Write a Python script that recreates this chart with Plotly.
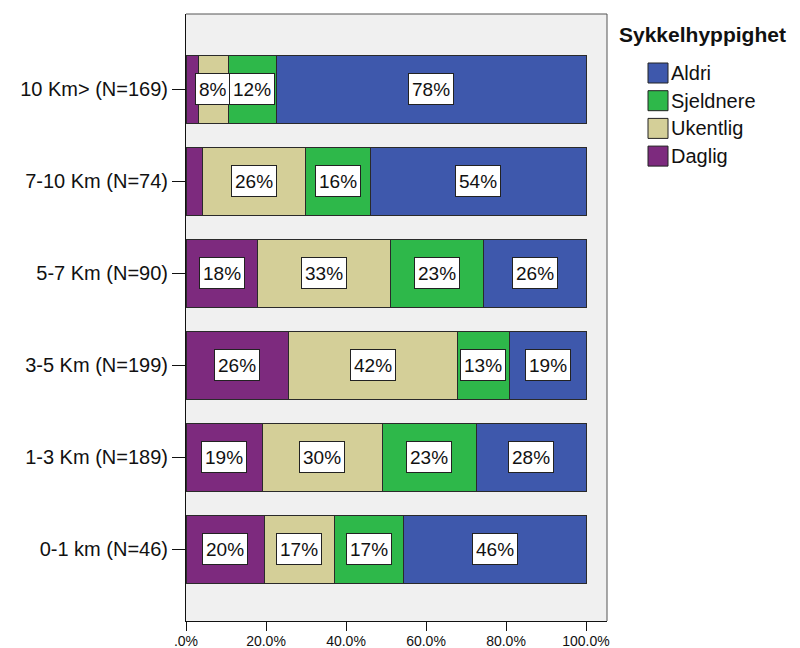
import plotly.graph_objects as go

# Distance groups, listed top to bottom
categories = ["10 Km> (N=169)", "7-10 Km (N=74)", "5-7 Km (N=90)",
              "3-5 Km (N=199)", "1-3 Km (N=189)", "0-1 km (N=46)"]

# Share of respondents (%) per cycling frequency
daglig = [3.0, 4.1, 17.8, 25.6, 19.0, 19.6]
ukentlig = [7.7, 25.7, 33.3, 42.2, 30.2, 17.4]
sjeldnere = [11.8, 16.2, 23.3, 13.1, 23.3, 17.4]
aldri = [77.5, 54.0, 25.6, 19.1, 27.5, 45.6]

series_names = ["Daglig", "Ukentlig", "Sjeldnere", "Aldri"]
series_values = [daglig, ukentlig, sjeldnere, aldri]
series_colors = ["#7D2A7E", "#D4CF98", "#2EB84A", "#3E58AC"]

tick_vals = [0, 20, 40, 60, 80, 100]
tick_text = [".0%", "20.0%", "40.0%", "60.0%", "80.0%", "100.0%"]

legend_title = "Sykkelhyppighet"
legend_order = ["Aldri", "Sjeldnere", "Ukentlig", "Daglig"]

FONT = "Liberation Sans, Arial, sans-serif"

fig = go.Figure()
for name, vals, color in zip(series_names, series_values, series_colors):
    fig.add_trace(go.Bar(
        y=categories, x=vals, name=name, orientation="h",
        marker=dict(color=color, line=dict(color="#2a2a2a", width=1)),
        showlegend=False, hoverinfo="x+y+name",
    ))

# Boxed percentage labels centred in each segment
annotations = []
for row, cat in enumerate(categories):
    left = 0.0
    for vals in series_values:
        v = vals[row]
        if v >= 5:
            annotations.append(dict(
                x=left + v / 2, y=cat, xref="x", yref="y",
                text=f"{v:.0f}%", showarrow=False, height=24,
                font=dict(family=FONT, size=19, color="#111"),
                bgcolor="white", bordercolor="#222", borderwidth=1, borderpad=3,
            ))
        left += v

# Legend drawn by hand: title, swatches and labels
annotations.append(dict(
    x=617, y=35, xref="paper", yref="paper", text=f"<b>{legend_title}</b>",
    showarrow=False, xanchor="left", yanchor="middle",
    font=dict(family=FONT, size=21, color="#111"),
))
shapes = []
color_of = dict(zip(series_names, series_colors))
for i, name in enumerate(legend_order):
    yc = 73 + i * 27.7
    shapes.append(dict(
        type="rect", xref="paper", yref="paper",
        x0=648, x1=668, y0=yc - 10, y1=yc + 10,
        fillcolor=color_of[name], line=dict(color="#222", width=1), layer="above",
    ))
    annotations.append(dict(
        x=669, y=yc, xref="paper", yref="paper", text=name, showarrow=False,
        xanchor="left", yanchor="middle",
        font=dict(family=FONT, size=20, color="#111"),
    ))

# Convert pixel-based legend positions to paper fractions
W, H = 800, 648
ML, MR, MT, MB = 186, 193, 14, 27
pw, ph = W - ML - MR, H - MT - MB


def px_to_paper_x(px):
    return (px - ML) / pw


def px_to_paper_y(py):
    return (H - MB - py) / ph


for a in annotations:
    if a.get("xref") == "paper":
        a["x"] = px_to_paper_x(a["x"])
        a["y"] = px_to_paper_y(a["y"])
for s in shapes:
    s["x0"], s["x1"] = px_to_paper_x(s["x0"]), px_to_paper_x(s["x1"])
    s["y0"], s["y1"] = px_to_paper_y(s["y0"]), px_to_paper_y(s["y1"])

# Top and right frame of the plot area
shapes.append(dict(type="line", xref="paper", yref="paper", x0=0, x1=1, y0=1, y1=1,
                   line=dict(color="#555", width=1), layer="above"))
shapes.append(dict(type="line", xref="paper", yref="paper", x0=1, x1=1, y0=0, y1=1,
                   line=dict(color="#555", width=1), layer="above"))

fig.update_layout(
    width=W, height=H,
    margin=dict(l=ML, r=MR, t=MT, b=MB, pad=0, autoexpand=False),
    barmode="stack", bargap=0.26,
    plot_bgcolor="#F0F0F0", paper_bgcolor="white",
    font=dict(family=FONT, color="#111"),
    annotations=annotations, shapes=shapes,
    xaxis=dict(
        range=[0, 105.25], tickvals=tick_vals, ticktext=tick_text,
        showgrid=False, zeroline=False, showline=True, linecolor="#111", linewidth=1,
        ticks="outside", ticklen=9, tickcolor="#111", automargin=False,
        ticklabelstandoff=-2,
        tickfont=dict(family=FONT, size=14, color="#111"),
    ),
    yaxis=dict(
        categoryorder="array", categoryarray=categories,
        range=[5.78, -0.82], showgrid=False, zeroline=False,
        showline=True, linecolor="#111", linewidth=1, automargin=False,
        ticks="outside", ticklen=13, tickcolor="#111",
        tickfont=dict(family=FONT, size=20, color="#111"),
    ),
)

fig.write_html("out.html")
